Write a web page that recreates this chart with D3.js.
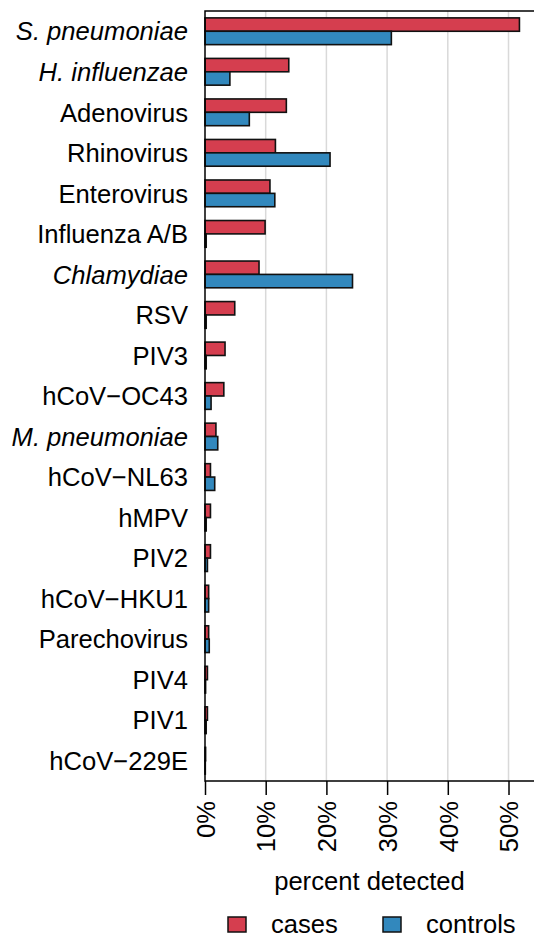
<!DOCTYPE html>
<head>
  <meta charset="utf-8">
  <title>percent detected</title>
  <style>
    body { margin: 0; background: #fff; }
    text {
      font-family: "Liberation Sans", Arial, sans-serif;
      font-size: 25.6px;
      fill: #000;
    }
  </style>
</head>

<body>
  <script src="https://d3js.org/d3.v7.min.js"></script>
  <script>
  const pathogens = ["S. pneumoniae", "H. influenzae", "Adenovirus", "Rhinovirus", "Enterovirus",
    "Influenza A/B", "Chlamydiae", "RSV", "PIV3", "hCoV\u2212OC43", "M. pneumoniae", "hCoV\u2212NL63",
    "hMPV", "PIV2", "hCoV\u2212HKU1", "Parechovirus", "PIV4", "PIV1", "hCoV\u2212229E"];
  const italic = ["S. pneumoniae", "H. influenzae", "Chlamydiae", "M. pneumoniae"];
  const cases = [51.8, 13.8, 13.4, 11.6, 10.7, 9.9, 8.9, 4.9, 3.3, 3.1, 1.8, 0.9, 0.9, 0.9, 0.6, 0.6, 0.4, 0.4, 0.1];
  const controls = [30.7, 4.1, 7.3, 20.6, 11.5, 0.2, 24.3, 0.2, 0.2, 1.0, 2.1, 1.6, 0.2, 0.4, 0.6, 0.7, 0.1, 0.2, 0.05];
  const groups = ["cases", "controls"];
  const ticks = [0, 10, 20, 30, 40, 50];

  const W = 534, H = 938;
  const plotLeft = 205, plotTop = 11, plotBottom = 781;

  const x = d3.scaleLinear().domain([0, 54.2]).range([plotLeft, W]);
  const y = d3.scaleBand().domain(pathogens).range([plotTop, plotBottom])
    .paddingInner(0.34).paddingOuter(0.17);
  const sub = d3.scaleBand().domain(groups).range([0, y.bandwidth()]);
  const color = d3.scaleOrdinal().domain(groups).range(["#D53E4F", "#3288BD"]);

  const svg = d3.select("body").append("svg")
    .attr("width", W)
    .attr("height", H);

  // grid
  svg.append("g")
    .selectAll("line")
    .data(ticks.slice(1))
    .enter()
    .append("line")
    .attr("x1", d => x(d)).attr("x2", d => x(d))
    .attr("y1", plotTop).attr("y2", plotBottom)
    .attr("stroke", "#d9d9d9")
    .attr("stroke-width", 1.5);

  // bars
  const rows = pathogens.map((p, i) => ({ name: p, cases: cases[i], controls: controls[i] }));
  const row = svg.append("g")
    .selectAll("g")
    .data(rows)
    .enter()
    .append("g")
    .attr("transform", d => `translate(0,${y(d.name)})`);

  row.selectAll("rect")
    .data(d => groups.map(g => ({ g: g, v: d[g] })))
    .enter()
    .append("rect")
    .attr("x", x(0))
    .attr("y", d => sub(d.g))
    .attr("width", d => x(d.v) - x(0))
    .attr("height", sub.bandwidth())
    .attr("fill", d => color(d.g))
    .attr("stroke", "#111")
    .attr("stroke-width", 1.6);

  // frame: top, left, bottom
  svg.append("path")
    .attr("d", `M${W},${plotTop}H${plotLeft}V${plotBottom}H${W}`)
    .attr("fill", "none")
    .attr("stroke", "#000")
    .attr("stroke-width", 1.5);

  // category labels
  svg.append("g")
    .selectAll("text")
    .data(pathogens)
    .enter()
    .append("text")
    .attr("x", plotLeft - 17)
    .attr("y", d => y(d) + y.bandwidth() / 2)
    .attr("dy", "0.36em")
    .attr("text-anchor", "end")
    .style("font-style", d => italic.includes(d) ? "italic" : "normal")
    .text(d => d);

  // x axis
  const xAxis = svg.append("g")
    .attr("transform", `translate(0,${plotBottom})`)
    .call(d3.axisBottom(x).tickValues(ticks).tickSize(14).tickFormat(d => d + "%"));
  xAxis.attr("font-family", null).attr("font-size", null);
  xAxis.select(".domain").remove();
  xAxis.selectAll(".tick line").attr("stroke", "#000").attr("stroke-width", 1.5);
  xAxis.selectAll(".tick text")
    .attr("fill", "#000")
    .attr("transform", "rotate(-90)")
    .attr("x", -20).attr("y", 0).attr("dy", "0.36em")
    .attr("text-anchor", "end");

  svg.append("text")
    .attr("x", (plotLeft + W) / 2)
    .attr("y", 890)
    .attr("text-anchor", "middle")
    .text("percent detected");

  // legend
  const legendX = [228, 383];
  const leg = svg.append("g")
    .selectAll("g")
    .data(groups)
    .enter()
    .append("g")
    .attr("transform", (d, i) => `translate(${legendX[i]},917)`);
  leg.append("rect")
    .attr("width", 18).attr("height", 15)
    .attr("fill", d => color(d))
    .attr("stroke", "#111").attr("stroke-width", 1.5);
  leg.append("text")
    .attr("x", 43).attr("y", 16)
    .text(d => d);
  </script>
</body>
</html>
